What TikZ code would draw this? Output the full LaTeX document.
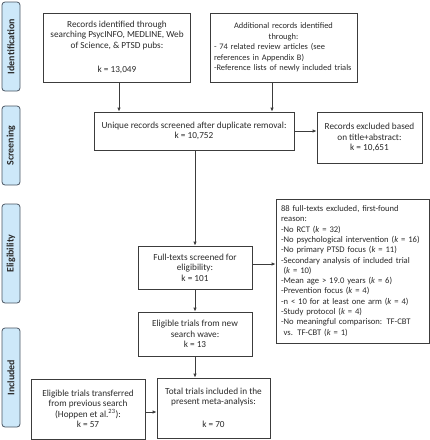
\documentclass[tikz,border=0pt]{standalone}
\usepackage{fontspec}
\setmainfont{Carlito}
\usetikzlibrary{arrows.meta}
\definecolor{boxline}{HTML}{3C3C3C}
\definecolor{txt}{HTML}{2A2A2A}
\definecolor{tabfill}{HTML}{CDE8F9}
\definecolor{tabline}{HTML}{4A5562}
\newlength\mylena
\newlength\mylenb
\newlength\mylenc
\newlength\mylend
\begin{document}
\fontsize{10}{12}\selectfont
\settowidth\mylena{Unique records screened after duplicate removal:}
\settowidth\mylenb{-Reference lists of newly included trials}
\settowidth\mylenc{-No psychological intervention (\textit{k} = 16)}
\settowidth\mylend{\bfseries Identification}
\pgfmathsetmacro\bodysize{10*185/\mylena}
\pgfmathsetmacro\bbsize{10*133/\mylenb}
\pgfmathsetmacro\eesize{10*134/\mylenc}
\pgfmathsetmacro\tabsize{10*55/\mylend}
\tikzset{
  box/.style={draw=boxline, line width=0.8pt, fill=white, inner xsep=5pt, inner ysep=3pt,
    font=\fontsize{\bodysize}{10.5}\selectfont, text=txt, align=center},
  tab/.style={draw=tabline, line width=0.8pt, fill=tabfill, rounded corners=3pt,
    font=\bfseries\fontsize{\tabsize}{12}\selectfont, text=txt, inner sep=0pt, rotate=90},
  arr/.style={draw=boxline, line width=0.8pt, -{Latex[length=4pt,width=3.5pt]}}
}
\begin{tikzpicture}[x=1pt,y=-1pt]
\useasboundingbox (0,0) rectangle (430,440);
% phase tabs
\node[tab, minimum width=89pt, minimum height=18pt] (t1) at (11,46.5) {Identification};
\node[tab, minimum width=79pt, minimum height=18pt] (t2) at (11,145.5) {Screening};
\node[tab, minimum width=99pt, minimum height=18pt] (t3) at (11,253.5) {Eligibility};
\node[tab, minimum width=99pt, minimum height=18pt] (t4) at (11,377.5) {Included};
% boxes
\node[box, minimum width=147pt, minimum height=69pt] (b1) at (117,47.5)
  {Records identified through\\searching PsycINFO, MEDLINE, Web\\of Science, \& PTSD pubs:\\[14pt]k = 13,049};
\node[box, minimum width=147pt, minimum height=69pt, text width=139pt, inner xsep=4pt, align=left,
  font=\fontsize{\bbsize}{10.5}\selectfont] (b2) at (283.5,47.5)
  {\centering Additional records identified\\through:\par\raggedright
   - 74 related review articles (see\\references in Appendix B)\\-Reference lists of newly included trials\par};
\node[box, minimum width=200pt, minimum height=38pt] (u) at (194,131)
  {Unique records screened after duplicate removal:\\k = 10,752};
\node[box, minimum width=105pt, minimum height=51pt] (e1) at (369.5,137.5)
  {Records excluded based\\on title+abstract:\\k = 10,651};
\node[box, minimum width=114pt, minimum height=43pt] (f) at (195,267.5)
  {Full-texts screened for\\eligibility:\\k = 101};
\node[box, minimum width=153pt, minimum height=144pt, text width=143pt, inner xsep=5pt, align=left,
  font=\fontsize{\eesize}{10.3}\selectfont] (e2) at (352.5,271)
  {88 full-texts excluded, first-found\\reason:\\-No RCT (\textit{k} = 32)\\-No psychological intervention (\textit{k} = 16)\\-No primary PTSD focus (\textit{k} = 11)\\-Secondary analysis of included trial\\\phantom{-}(\textit{k} = 10)\\-Mean age > 19.0 years (\textit{k} = 6)\\-Prevention focus (\textit{k} = 4)\\-n < 10 for at least one arm (\textit{k} = 4)\\-Study protocol (\textit{k} = 4)\\-No meaningful comparison: TF-CBT\\\phantom{-}vs. TF-CBT (\textit{k} = 1)};
\node[box, minimum width=114pt, minimum height=44pt] (el) at (195,334)
  {Eligible trials from new\\search wave:\\k = 13};
\node[box, minimum width=113pt, minimum height=60pt] (tot) at (213.5,408)
  {Total trials included in the\\present meta-analysis:\\[12.5pt]k = 70};
\node[box, minimum width=114pt, minimum height=60pt] (tr) at (88,409)
  {Eligible trials transferred\\from previous search\\(Hoppen et al.\textsuperscript{23}):\\k = 57};
% arrows
\draw[arr] ([xshift=2pt]b1.south) -- ([xshift=2pt]b1.south |- u.north);
\draw[arr] ([xshift=-11.5pt]b2.south) -- ([xshift=-11.5pt]b2.south |- u.north);
\draw[arr] (u.east) -- (u.east -| e1.west);
\draw[arr] (u.south -| f.north) -- (f.north);
\draw[arr] ([yshift=3.5pt]f.east) -- ([yshift=3.5pt]f.east -| e2.west);
\draw[arr] (f.south) -- (el.north);
\draw[arr] (el.south) -- (el.south |- tot.north);
\draw[arr] ([yshift=-3pt]tr.east) -- ([yshift=-3pt]tr.east -| tot.west);
\end{tikzpicture}
\end{document}
